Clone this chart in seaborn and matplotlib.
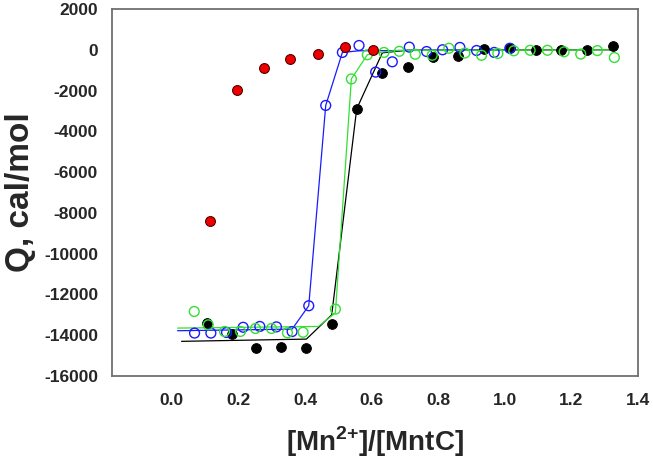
import numpy as np
import pandas as pd
import matplotlib
matplotlib.use("Agg")
import matplotlib.pyplot as plt
import seaborn as sns

# ---------------- data ----------------
red_x = [0.114, 0.194, 0.276, 0.356, 0.439, 0.521, 0.604]
red_y = [-8380, -1960, -900, -460, -210, 160, 0]

black_x = [0.104, 0.180, 0.254, 0.327, 0.404, 0.480, 0.555, 0.632, 0.708,
           0.783, 0.860, 0.938, 1.017, 1.093, 1.170, 1.248, 1.325]
black_y = [-13400, -13930, -14640, -14580, -14640, -13440, -2910, -1160, -850,
           -330, -295, 35, 85, 0, -35, 0, 195]

blue_x = [0.068, 0.117, 0.164, 0.214, 0.264, 0.314, 0.361, 0.411, 0.462, 0.512,
          0.562, 0.612, 0.662, 0.713, 0.765, 0.813, 0.865, 0.915, 0.968, 1.015]
blue_y = [-13895, -13895, -13865, -13610, -13570, -13590, -13820, -12555, -2730, -130,
          210, -1095, -590, 130, -85, 0, 115, -35, -130, 75]

green_x = [0.067, 0.109, 0.158, 0.206, 0.251, 0.299, 0.347, 0.394, 0.491, 0.539,
           0.587, 0.637, 0.683, 0.731, 0.782, 0.832, 0.880, 0.930, 0.979, 1.027,
           1.076, 1.128, 1.178, 1.228, 1.278, 1.329]
green_y = [-12835, -13490, -13815, -13815, -13670, -13670, -13880, -13855, -12720, -1430,
           -245, -130, -75, -220, -270, 75, -160, -270, -180, -50,
           -25, -25, -100, -210, -40, -380]

# fitted curves
black_fit_x = [0.029, 0.404, 0.480, 0.555, 0.632, 0.708, 1.325]
black_fit_y = [-14300, -14190, -13000, -2900, -150, -20, 0]

blue_fit_x = [0.017, 0.361, 0.411, 0.462, 0.512, 0.562, 1.015]
blue_fit_y = [-13780, -13700, -12555, -2730, -130, -50, 0]

green_fit_x = [0.017, 0.440, 0.491, 0.539, 0.587, 0.637, 0.683, 1.329]
green_fit_y = [-13650, -13570, -12900, -1430, -245, -100, -30, 0]

x_ticks = [0.0, 0.2, 0.4, 0.6, 0.8, 1.0, 1.2, 1.4]
y_ticks = list(range(-16000, 2001, 2000))

# ---------------- style ----------------
sns.set_style("white")
plt.rcParams["font.family"] = ["Liberation Sans", "DejaVu Sans"]
plt.rcParams["mathtext.fontset"] = "custom"
plt.rcParams["mathtext.bf"] = "Liberation Sans:bold"
plt.rcParams["mathtext.rm"] = "Liberation Sans:bold"

fig = plt.figure(figsize=(6.53, 4.63), dpi=100)
ax = fig.add_axes([112 / 653, 1 - 376 / 463, (638 - 112) / 653, (376 - 9) / 463])

blue_c = "#1a1aff"
green_c = "#33e033"

# fitted lines
sns.lineplot(x=black_fit_x, y=black_fit_y, ax=ax, color="black", lw=0.9,
             sort=False, estimator=None, zorder=2)
sns.lineplot(x=blue_fit_x, y=blue_fit_y, ax=ax, color=blue_c, lw=0.9,
             sort=False, estimator=None, zorder=2)
sns.lineplot(x=green_fit_x, y=green_fit_y, ax=ax, color=green_c, lw=0.9,
             sort=False, estimator=None, zorder=2)

# data points
ms = 50
sns.scatterplot(x=black_x, y=black_y, ax=ax, color="black", s=ms,
                edgecolor="black", linewidth=0.6, zorder=3)
sns.scatterplot(x=blue_x, y=blue_y, ax=ax, s=ms, marker="o",
                facecolors="none", edgecolor=blue_c, linewidth=1.0, zorder=4)
sns.scatterplot(x=green_x, y=green_y, ax=ax, s=ms, marker="o",
                facecolors="none", edgecolor=green_c, linewidth=1.0, zorder=5)
sns.scatterplot(x=red_x, y=red_y, ax=ax, color="#ee0000", s=ms,
                edgecolor="#550000", linewidth=0.8, zorder=6)

ax.set_xlim(-0.18, 1.4)
ax.set_ylim(-16000, 2000)
ax.set_xticks(x_ticks)
ax.set_xticklabels([f"{v:.1f}" for v in x_ticks])
ax.set_yticks(y_ticks)
ax.set_yticklabels([str(v) for v in y_ticks])

for sp in ax.spines.values():
    sp.set_color("#707070")
    sp.set_linewidth(1.3)
    sp.set_visible(True)

ax.tick_params(axis="both", direction="out", length=5, width=1.0,
               color="#555555", labelsize=12.5)
ax.tick_params(axis="y", pad=5)
ax.tick_params(axis="x", pad=7)
for lab in ax.get_xticklabels() + ax.get_yticklabels():
    lab.set_fontweight("bold")

ax.set_xlabel(r"[Mn$^{\mathbf{2}{\mathbf{+}}}$]/[MntC]", fontsize=20,
              fontweight="bold", labelpad=12)
ax.set_ylabel("Q, cal/mol", fontsize=24, fontweight="bold", labelpad=6)

fig.savefig("out.png", dpi=100)
